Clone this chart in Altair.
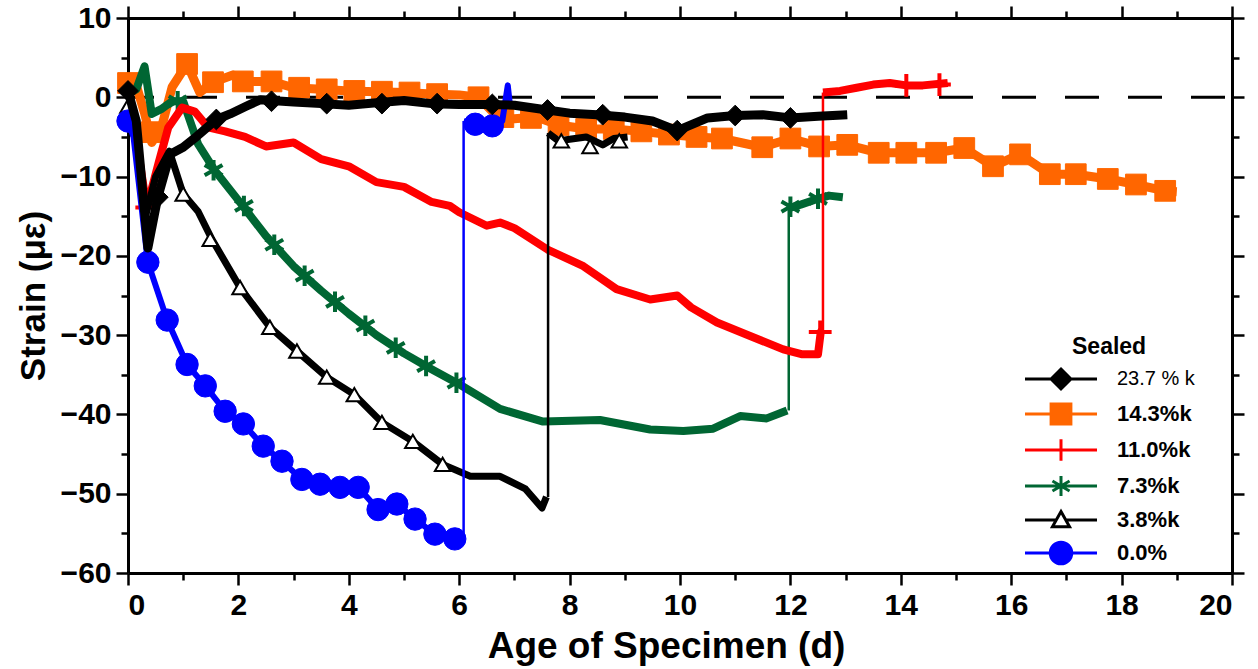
import altair as alt
import pandas as pd

# ---------------- data ----------------
SERIES = ["23.7 % k", "14.3%k", "11.0%k", "7.3%k", "3.8%k", "0.0%"]
COLORS = ["#000000", "#FF6600", "#FF0000", "#006633", "#000000", "#0000FF"]
FILLS = ["#000000", "#FF6600", "#FF0000", "#006633", "#FFFFFF", "#0000FF"]

# 23.7 % k (black, diamonds)
k237_x = [0, 0.15, 0.36, 0.54, 0.76, 1.0, 1.25, 1.6, 1.85, 2.15, 2.4, 3.0, 3.5, 4.0, 4.5, 5.0,
          5.5, 6.0, 6.5, 7.0, 7.5, 8.0, 8.5, 9.0, 9.5, 9.95, 10.5, 11.0, 11.5, 12.0, 12.5, 13.03]
k237_y = [0.8, -3.0, -19.0, -12.6, -7.2, -6.3, -4.9, -2.8, -2.1, -1.1, -0.3, -0.6, -0.8, -1.0, -0.7, -0.4,
          -0.8, -0.9, -0.9, -1.0, -1.5, -2.0, -2.2, -2.5, -3.0, -4.2, -2.6, -2.3, -2.2, -2.6, -2.4, -2.2]
k237_mx = [0, 0.54, 1.6, 2.6, 3.6, 4.6, 5.6, 6.6, 7.6, 8.6, 9.95, 11.0, 12.0]
k237_my = [0.8, -12.6, -2.8, -0.5, -0.8, -0.8, -0.8, -0.9, -1.6, -2.2, -4.2, -2.3, -2.6]

# 14.3%k (orange, squares)
k143_x = [0, 0.15, 0.3, 0.43, 0.6, 0.8, 1.07, 1.3, 1.54, 1.9, 2.08, 2.6, 3.0, 3.5, 4.0, 4.5, 5.0,
          5.5, 6.0, 6.35, 6.7, 7.0, 7.4, 7.8, 8.3, 8.8, 9.3, 9.8, 10.3, 10.76, 11.49, 12.0, 12.52,
          13.03, 13.6, 14.1, 14.64, 15.15, 15.67, 16.16, 16.7, 17.17, 17.75, 18.26, 18.79, 19.0]
k143_y = [1.8, 1.5, -2.0, -5.7, -4.0, 1.3, 4.2, 0.6, 1.9, 2.8, 2.0, 2.0, 1.2, 1.0, 0.8, 0.7, 0.6,
          0.4, 0.3, 0.0, -2.5, -2.7, -2.5, -3.5, -4.0, -4.0, -4.3, -4.7, -5.0, -5.2, -6.3, -5.2, -6.2,
          -6.0, -7.0, -7.0, -7.0, -6.4, -8.7, -7.2, -9.7, -9.7, -10.3, -11.0, -11.8, -11.9]
k143_mx = [0, 0.43, 1.07, 1.54, 2.08, 2.6, 3.1, 3.6, 4.1, 4.6, 5.1, 5.6, 6.35, 6.8, 7.3, 7.8, 8.3,
           8.8, 9.3, 9.8, 10.3, 10.76, 11.49, 12.0, 12.52, 13.03, 13.6, 14.1, 14.64, 15.15, 15.67,
           16.16, 16.7, 17.17, 17.75, 18.26, 18.79]
k143_my = [1.8, -4.4, 4.2, 1.9, 2.0, 2.0, 1.2, 1.0, 0.8, 0.7, 0.6, 0.4, 0.0, -2.5, -2.6, -3.5, -4.0,
           -4.0, -4.3, -4.7, -5.0, -5.2, -6.3, -5.2, -6.2, -6.0, -7.0, -7.0, -7.0, -6.4, -8.7,
           -7.2, -9.7, -9.7, -10.3, -11.0, -11.8]

# 11.0%k (red, crosses) - two segments
k110_x1 = [0, 0.1, 0.34, 0.55, 0.73, 0.98, 1.21, 1.45, 1.76, 2.12, 2.5, 3.0, 3.5, 4.0, 4.5, 5.0,
           5.5, 5.83, 6.0, 6.5, 6.74, 7.0, 7.6, 8.25, 8.85, 9.46, 9.95, 10.2, 10.67, 11.27, 11.87,
           12.2, 12.5, 12.55, 12.57]
k110_y1 = [-0.9, -3.0, -13.9, -8.4, -3.8, -1.3, -1.8, -3.8, -4.3, -5.0, -6.2, -5.7, -7.8, -8.7, -10.7,
           -11.3, -13.2, -13.7, -14.5, -16.2, -15.8, -16.5, -19.2, -21.3, -24.2, -25.5, -25.0, -26.5,
           -28.4, -30.1, -31.8, -32.4, -32.4, -29.6, -29.4]
k110_x2 = [12.59, 12.9, 13.2, 13.5, 13.8, 14.1, 14.4, 14.85]
k110_y2 = [0.6, 0.8, 1.2, 1.6, 1.8, 1.5, 1.5, 1.8]
k110_mx = [0.34, 12.54, 14.1, 14.7]
k110_my = [-13.9, -29.6, 1.5, 1.6]

# 7.3%k (green, asterisks) - two segments
k73_x1 = [0, 0.15, 0.3, 0.43, 0.6, 0.8, 1.0, 1.27, 1.58, 2.0, 2.5, 3.0, 3.5, 4.0, 4.5, 5.0, 5.5,
          6.0, 6.74, 7.52, 8.55, 9.46, 10.06, 10.6, 11.09, 11.57, 11.94]
k73_y1 = [0.5, 1.0, 3.9, -2.1, -1.5, -0.5, -0.5, -5.9, -9.3, -13.0, -17.5, -21.3, -24.4, -27.3,
          -30.0, -32.3, -34.3, -36.2, -39.3, -40.9, -40.7, -41.9, -42.1, -41.8, -40.2, -40.5, -39.5]
k73_x2 = [11.97, 12.2, 12.5, 12.7, 12.95]
k73_y2 = [-14.0, -13.5, -12.8, -12.4, -12.6]
k73_mx = [0.9, 1.55, 2.1, 2.65, 3.2, 3.75, 4.3, 4.85, 5.4, 5.95, 12.0, 12.5]
k73_my = [-0.5, -9.2, -13.7, -18.6, -22.5, -25.8, -28.8, -31.6, -33.9, -36.0, -13.8, -12.8]

# 3.8%k (black, open triangles) - two segments
k38_x1 = [0, 0.15, 0.3, 0.5, 0.75, 1.0, 1.27, 1.52, 2.03, 2.57, 3.06, 3.6, 4.1, 4.6, 5.16, 5.7,
          6.2, 6.74, 7.2, 7.5, 7.58]
k38_y1 = [-1.1, -6.0, -15.5, -10.0, -6.8, -12.2, -14.4, -17.9, -24.0, -29.0, -32.0, -35.3, -37.5,
          -41.0, -43.4, -46.3, -47.8, -47.8, -49.4, -51.8, -50.4]
k38_x2 = [7.61, 7.8, 8.0, 8.3, 8.6, 8.8, 9.05]
k38_y2 = [-4.5, -5.5, -5.3, -5.0, -6.0, -5.2, -5.0]
k38_mx = [0, 1.0, 1.49, 2.03, 2.57, 3.06, 3.6, 4.1, 4.6, 5.16, 5.7, 7.85, 8.37, 8.9]
k38_my = [-1.1, -12.2, -17.9, -24.0, -29.0, -32.0, -35.3, -37.5, -41.0, -43.4, -46.3, -5.5, -6.2, -5.5]

# 0.0% (blue, circles) - two segments
k0_x1 = [0, 0.1, 0.36, 0.71, 1.07, 1.40, 1.76, 2.09, 2.45, 2.79, 3.15, 3.48, 3.84, 4.17, 4.53,
         4.87, 5.2, 5.56, 5.92, 6.06]
k0_y1 = [-3.0, -5.0, -20.8, -28.1, -33.7, -36.4, -39.6, -41.2, -44.0, -45.9, -48.2, -48.8, -49.2,
         -49.2, -52.0, -51.3, -53.2, -55.1, -55.7, -56.2]
k0_x2 = [6.08, 6.29, 6.6, 6.78, 6.88, 6.92]
k0_y2 = [-3.0, -3.4, -3.6, -3.0, 1.5, -1.0]
k0_mx = [0, 0.36, 0.71, 1.07, 1.40, 1.76, 2.09, 2.45, 2.79, 3.15, 3.48, 3.84, 4.17, 4.53, 4.87,
         5.2, 5.56, 5.92, 6.29, 6.6]
k0_my = [-3.0, -20.8, -28.1, -33.7, -36.4, -39.6, -41.2, -44.0, -45.9, -48.2, -48.8, -49.2, -49.2,
         -52.0, -51.3, -53.2, -55.1, -55.7, -3.4, -3.6]

X_TICKS = list(range(0, 21))
Y_TICKS = list(range(-60, 11, 5))

# ---------------- tables built from the arrays ----------------
segments = {
    "23.7 % k": [(k237_x, k237_y)],
    "14.3%k": [(k143_x, k143_y)],
    "11.0%k": [(k110_x1, k110_y1), (k110_x2, k110_y2)],
    "7.3%k": [(k73_x1, k73_y1), (k73_x2, k73_y2)],
    "3.8%k": [(k38_x1, k38_y1), (k38_x2, k38_y2)],
    "0.0%": [(k0_x1, k0_y1), (k0_x2, k0_y2)],
}
markers = {
    "23.7 % k": (k237_mx, k237_my),
    "14.3%k": (k143_mx, k143_my),
    "11.0%k": (k110_mx, k110_my),
    "7.3%k": (k73_mx, k73_my),
    "3.8%k": (k38_mx, k38_my),
    "0.0%": (k0_mx, k0_my),
}

def line_df(name):
    rows = []
    for si, (xs, ys) in enumerate(segments[name]):
        for i, (x, y) in enumerate(zip(xs, ys)):
            rows.append({"series": name, "seg": si, "i": i, "x": x, "y": y})
    return pd.DataFrame(rows)

def jump_df(name):
    segs = segments[name]
    rows = []
    for a, b in zip(segs[:-1], segs[1:]):
        rows.append({"series": name, "x": b[0][0], "y": a[1][-1], "y2": b[1][0]})
    return pd.DataFrame(rows, columns=["series", "x", "y", "y2"])

def marker_df(name):
    xs, ys = markers[name]
    return pd.DataFrame({"series": name, "x": xs, "y": ys})

FONT = "Liberation Sans"
xscale = alt.Scale(domain=[0, 20], nice=False, zero=False)
yscale = alt.Scale(domain=[-60, 10], nice=False, zero=False)
color_scale = alt.Scale(domain=SERIES, range=COLORS)
fill_scale = alt.Scale(domain=SERIES, range=FILLS)

CROSS = "M-1,0H1M0,-1V1"
STAR = "M0,-1V1M-0.87,-0.5L0.87,0.5M-0.87,0.5L0.87,-0.5"
SHAPES = ["diamond", "square", CROSS, STAR, "triangle-up", "circle"]
SIZES = [430, 430, 520, 420, 240, 500]
STROKE_W = [1, 1, 4, 4, 2, 1]
FILLED = [True, True, False, False, True, True]
LINE_W = [9, 9, 8, 8, 7, 6]

LEG_PATHS = [
    "M-4,0H4M0,-1.1L1.1,0L0,1.1L-1.1,0Z",
    "M-4,0H4M-1.1,-1.1H1.1V1.1H-1.1Z",
    "M-4,0H4M0,-1.2V1.2M-1.2,0H1.2",
    "M-4,0H4M0,-1.1V1.1M-0.95,-0.55L0.95,0.55M-0.95,0.55L0.95,-0.55",
    "M-4,0H-0.55M0.55,0H4M0,-0.95L0.95,0.75L-0.95,0.75Z",
    "M-4,0H4M-1.2,0A1.2,1.2,0,1,0,1.2,0A1.2,1.2,0,1,0,-1.2,0Z",
]

def pick_expr(values, default):
    expr = f"'{default}'"
    for s, v in reversed(list(zip(SERIES, values))):
        expr = f"datum.value === '{s}' ? '{v}' : ({expr})"
    return expr

tick_major_x = {"condition": {"test": "datum.value % 2 === 0", "value": 12}, "value": 7}
tick_major_y = {"condition": {"test": "datum.value % 10 === 0", "value": 12}, "value": 7}

axis_common = dict(domainColor="black", domainWidth=3, tickColor="black", tickWidth=2.5,
                   grid=False, labelFont=FONT, labelFontWeight="bold", labelColor="black",
                   titleFont=FONT, titleFontWeight="bold", titleColor="black")

x_bottom = alt.Axis(orient="bottom", values=X_TICKS, tickSize=tick_major_x,
                    labelExpr="datum.value % 2 === 0 ? datum.label : ''",
                    labelFontSize=30, labelPadding=5, title="Age of Specimen (d)",
                    titleFontSize=37, titlePadding=8, titleX=538, **axis_common)
y_left = alt.Axis(orient="left", values=Y_TICKS, tickSize=tick_major_y,
                  labelExpr="datum.value % 10 === 0 ? datum.label : ''",
                  labelFontSize=30, labelPadding=5, title="Strain (με)",
                  titleFontSize=35, titlePadding=9, **axis_common)
x_top = alt.Axis(orient="top", values=X_TICKS, tickSize=tick_major_x, labels=False,
                 title=None, **axis_common)
y_right = alt.Axis(orient="right", values=Y_TICKS, tickSize=tick_major_y, labels=False,
                   title=None, **axis_common)

# zero reference line
zero = alt.Chart(pd.DataFrame({"y": [0]})).mark_rule(
    color="black", strokeWidth=3, strokeDash=[34, 29], strokeDashOffset=56
).encode(y=alt.Y("y:Q", scale=yscale, axis=None))

# base layer carrying bottom/left axes
base = alt.Chart(pd.DataFrame({"x": [0], "y": [0]})).mark_point(opacity=0).encode(
    x=alt.X("x:Q", scale=xscale, axis=x_bottom),
    y=alt.Y("y:Q", scale=yscale, axis=y_left),
)

layers = [zero, base]
draw_order = ["14.3%k", "7.3%k", "11.0%k", "3.8%k", "0.0%", "23.7 % k"]
for name in draw_order:
    k = SERIES.index(name)
    ld = line_df(name)
    layers.append(
        alt.Chart(ld).mark_line(strokeWidth=LINE_W[k], strokeJoin="round",
                                color=COLORS[k]).encode(
            x=alt.X("x:Q", scale=xscale, axis=None),
            y=alt.Y("y:Q", scale=yscale, axis=None),
            detail="seg:N",
            order="i:Q",
        )
    )
    jd = jump_df(name)
    if len(jd):
        layers.append(
            alt.Chart(jd).mark_rule(strokeWidth=2.5, color=COLORS[k]).encode(
                x=alt.X("x:Q", scale=xscale, axis=None),
                y=alt.Y("y:Q", scale=yscale, axis=None),
                y2="y2:Q",
            )
        )
    mark_kw = dict(shape=SHAPES[k], size=SIZES[k], stroke=COLORS[k],
                   strokeWidth=STROKE_W[k], opacity=1, filled=FILLED[k])
    if FILLED[k]:
        mark_kw["fill"] = FILLS[k]
    layers.append(
        alt.Chart(marker_df(name)).mark_point(**mark_kw).encode(
            x=alt.X("x:Q", scale=xscale, axis=None),
            y=alt.Y("y:Q", scale=yscale, axis=None),
        )
    )

# legend + top/right axes layer (no visible marks)
leg_df = pd.DataFrame({"series": SERIES, "x": [0] * 6, "y": [0] * 6})
legend_layer = alt.Chart(leg_df).transform_filter("false").mark_point(
    filled=True, opacity=1, strokeWidth=2.5
).encode(
    x=alt.X("x:Q", scale=xscale, axis=x_top),
    y=alt.Y("y:Q", scale=yscale, axis=y_right),
    shape=alt.Shape("series:N", scale=alt.Scale(domain=SERIES, range=LEG_PATHS),
                    legend=alt.Legend(
                        title="Sealed", orient="none", legendX=944, legendY=318,
                        titleFont=FONT, titleFontSize=23, titleFontWeight="bold",
                        titleColor="black", titleAnchor="start", titlePadding=9,
                        labelFont=FONT, labelColor="black",
                        labelFontSize={"expr": "datum.label === '23.7 % k' ? 20 : 22"},
                        labelFontWeight={"expr": "datum.label === '23.7 % k' ? 'normal' : 'bold'"},
                        symbolSize=324, symbolStrokeWidth=3, symbolOffset=-22,
                        labelOffset=45, rowPadding=3, symbolOpacity=1,
                        symbolFillColor={"expr": pick_expr(FILLS, "black")},
                        symbolStrokeColor={"expr": pick_expr(COLORS, "black")})),
    fill=alt.Fill("series:N", scale=fill_scale, legend=None),
    stroke=alt.Stroke("series:N", scale=color_scale, legend=None),
)
layers.append(legend_layer)

chart = alt.layer(*layers).resolve_axis(
    x="independent", y="independent"
).properties(
    width=1104, height=555,
    autosize=alt.AutoSizeParams(type="none"),
    padding={"left": 128, "top": 18, "right": 26, "bottom": 96},
).configure_view(stroke=None).configure(background="white")

chart.save("out.html", embed_options={"renderer": "svg", "actions": False})
